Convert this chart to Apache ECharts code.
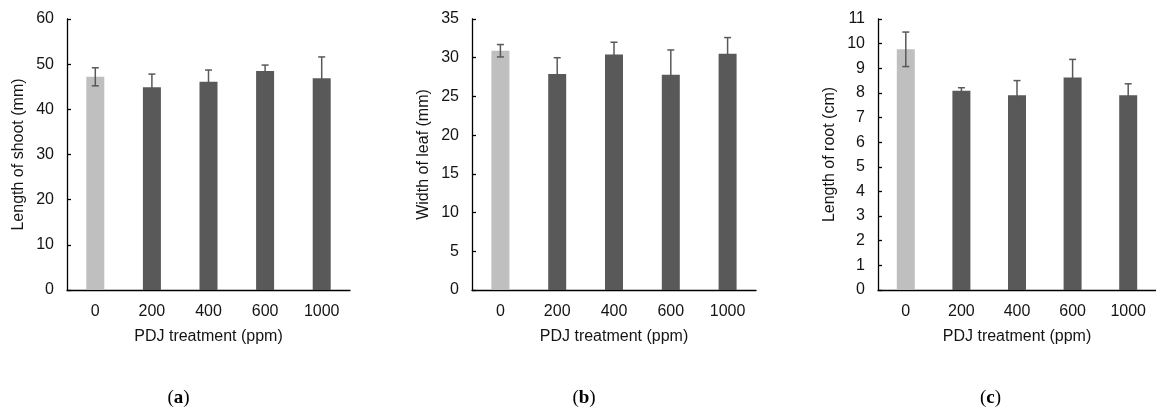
<!DOCTYPE html>
<html>
<head>
<meta charset="utf-8">
<script src="https://cdn.jsdelivr.net/npm/echarts@6/dist/echarts.min.js"></script>
<style>
  html, body { margin: 0; padding: 0; background: #fff; }
  #chart { width: 1156px; height: 412px; }
</style>
</head>
<body>
<div id="chart"></div>
<script>
// PDJ treatment levels (ppm)
const categories = ['0', '200', '400', '600', '1000'];

// (a) shoot length, mm
const shootMean = [47.2, 44.9, 46.1, 48.5, 46.9];
const shootErr  = [2.0, 2.9, 2.6, 1.3, 4.7];

// (b) leaf width, mm
const leafMean = [30.9, 27.9, 30.4, 27.8, 30.5];
const leafErr  = [0.8, 2.1, 1.6, 3.2, 2.1];

// (c) root length, cm
const rootMean = [9.77, 8.09, 7.90, 8.63, 7.90];
const rootErr  = [0.7, 0.12, 0.6, 0.73, 0.47];

const panels = [
  { mean: shootMean, err: shootErr, yName: 'Length of shoot (mm)', max: 60, interval: 10, tag: 'a' },
  { mean: leafMean,  err: leafErr,  yName: 'Width of leaf (mm)',   max: 35, interval: 5,  tag: 'b' },
  { mean: rootMean,  err: rootErr,  yName: 'Length of root (cm)',  max: 11, interval: 1,  tag: 'c' }
];

const gridBoxes = [
  { left: 67,  top: 19, width: 283, height: 271 },
  { left: 472, top: 19, width: 284, height: 271 },
  { left: 878, top: 19, width: 285, height: 271 }
];

const FONT = 'Liberation Sans, Arial, sans-serif';
const TEXT = '#141414';
const CONTROL = '#bfbfbf';
const TREAT = '#595959';
const ERRC = '#595959';

const grid = [], xAxis = [], yAxis = [], series = [], graphic = [];

panels.forEach((p, i) => {
  grid.push(Object.assign({ containLabel: false }, gridBoxes[i]));

  xAxis.push({
    type: 'category',
    gridIndex: i,
    data: categories,
    name: 'PDJ treatment (ppm)',
    nameLocation: 'middle',
    nameGap: 39,
    nameTextStyle: { fontFamily: FONT, fontSize: 16, color: TEXT },
    axisLine: { lineStyle: { color: '#000', width: 1.3 } },
    axisTick: { show: false },
    axisLabel: { fontFamily: FONT, fontSize: 16, color: TEXT, margin: 14 },
    splitLine: { show: false }
  });

  yAxis.push({
    type: 'value',
    gridIndex: i,
    min: 0,
    max: p.max,
    interval: p.interval,
    name: p.yName,
    nameLocation: 'middle',
    nameGap: 40,
    nameTextStyle: { fontFamily: FONT, fontSize: 16, color: TEXT },
    axisLine: { show: true, lineStyle: { color: '#000', width: 1.3 } },
    axisTick: { show: true, inside: true, length: 4, lineStyle: { color: '#000', width: 1.3 } },
    axisLabel: { fontFamily: FONT, fontSize: 16, color: TEXT, margin: 13 },
    splitLine: { show: false }
  });

  series.push({
    type: 'bar',
    xAxisIndex: i,
    yAxisIndex: i,
    barWidth: 18,
    data: p.mean.map((v, k) => ({
      value: v,
      itemStyle: { color: k === 0 ? CONTROL : TREAT }
    })),
    silent: true
  });

  // mean ± SD whiskers
  series.push({
    type: 'custom',
    xAxisIndex: i,
    yAxisIndex: i,
    silent: true,
    z: 5,
    data: p.mean.map((v, k) => [k, v - p.err[k], v + p.err[k]]),
    renderItem: function (params, api) {
      const top = api.coord([api.value(0), api.value(2)]);
      const bot = api.coord([api.value(0), api.value(1)]);
      const cap = 3.5;
      const style = { stroke: ERRC, lineWidth: 1.5 };
      return {
        type: 'group',
        children: [
          { type: 'line', shape: { x1: top[0], y1: top[1], x2: bot[0], y2: bot[1] }, style },
          { type: 'line', shape: { x1: top[0] - cap, y1: top[1], x2: top[0] + cap, y2: top[1] }, style },
          { type: 'line', shape: { x1: bot[0] - cap, y1: bot[1], x2: bot[0] + cap, y2: bot[1] }, style }
        ]
      };
    }
  });

  const g = gridBoxes[i];
  graphic.push({
    type: 'text',
    x: g.left + g.width / 2 - 30,
    y: 398,
    style: {
      text: '{p|(}{b|' + p.tag + '}{p|)}',
      align: 'center',
      verticalAlign: 'middle',
      rich: {
        p: { fontFamily: 'Liberation Serif, serif', fontSize: 19, color: '#000' },
        b: { fontFamily: 'Liberation Serif, serif', fontSize: 19, fontWeight: 'bold', color: '#000' }
      }
    }
  });
});

const chart = echarts.init(document.getElementById('chart'), null, { renderer: 'canvas' });
chart.setOption({
  animation: false,
  backgroundColor: '#ffffff',
  grid, xAxis, yAxis, series, graphic
});
</script>
</body>
</html>
